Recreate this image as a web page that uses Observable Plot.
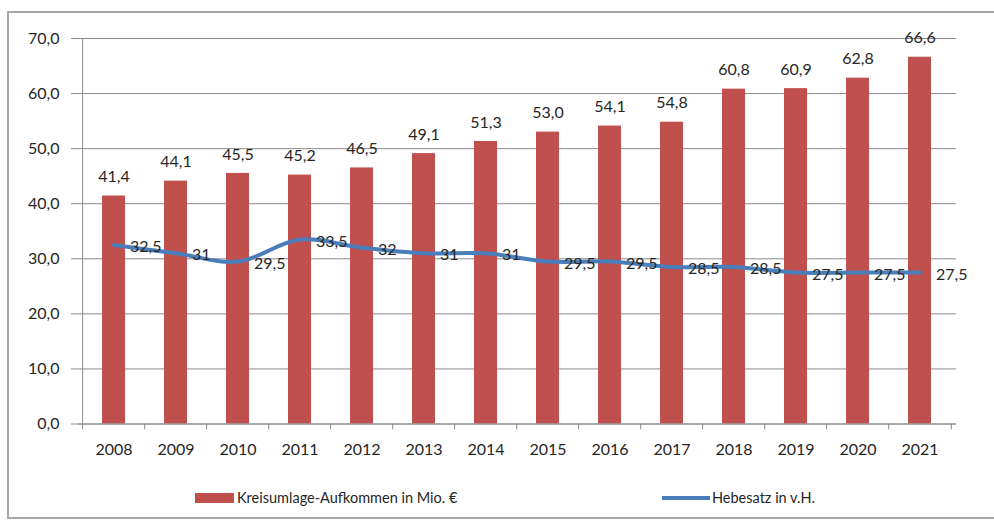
<!DOCTYPE html>
<html>
<head>
<meta charset="utf-8">
<script src="https://cdn.jsdelivr.net/npm/d3@7"></script>
<script src="https://cdn.jsdelivr.net/npm/@observablehq/plot@0.6"></script>
<style>
  html, body { margin: 0; padding: 0; background: #fff; }
  #wrap { position: relative; width: 994px; height: 523px; overflow: hidden; font-family: Lato, "Open Sans", sans-serif; }
  #frame { position: absolute; left: 7px; top: 11px; width: 1010px; height: 504px; border: 2px solid #a6a6a6; pointer-events: none; }
  #legend { position: relative; height: 48px; font-size: 14.5px; color: #262626; }
  .sw { position: absolute; }
  .lt { position: absolute; top: 13px; line-height: 20px; white-space: nowrap; }
</style>
</head>
<body>
<div id="wrap">
  <div id="chart"></div>
  <div id="legend">
    <div class="sw" style="left:195px; top:18px; width:39px; height:10px; background:#C0504D;"></div>
    <div class="lt" style="left:237px;">Kreisumlage-Aufkommen in Mio. €</div>
    <div class="sw" style="left:662px; top:21px; width:48px; height:4px; background:#4A7EBB;"></div>
    <div class="lt" style="left:712px;">Hebesatz in v.H.</div>
  </div>
  <div id="frame"></div>
</div>
<script>
const years = ["2008","2009","2010","2011","2012","2013","2014","2015","2016","2017","2018","2019","2020","2021"];
const aufkommen = [41.4, 44.1, 45.5, 45.2, 46.5, 49.1, 51.3, 53.0, 54.1, 54.8, 60.8, 60.9, 62.8, 66.6];
const hebesatz = [32.5, 31, 29.5, 33.5, 32, 31, 31, 29.5, 29.5, 28.5, 28.5, 27.5, 27.5, 27.5];
const yTicks = [0, 10, 20, 30, 40, 50, 60, 70];

const barData = years.map((year, i) => ({year, value: aufkommen[i]}));
const lineData = years.map((year, i) => ({year, value: hebesatz[i]}));

const comma1 = v => v.toFixed(1).replace(".", ",");
const commaAuto = v => Number.isInteger(v) ? String(v) : String(v).replace(".", ",");

const W = 994, H = 475, ML = 78, MR = 38, MT = 38, MB = 51.5;
const step = (W - ML - MR) / years.length;
const gray = "#8c8c8c";

const chart = Plot.plot({
  width: W, height: H,
  marginTop: MT, marginBottom: MB, marginLeft: ML, marginRight: MR,
  style: {fontFamily: "Lato, 'Open Sans', sans-serif", fontSize: "16px", color: "#262626", background: "transparent"},
  x: {type: "band", domain: years, paddingInner: 0.625, paddingOuter: 0.3125, label: null},
  y: {domain: [0, 70], label: null},
  marks: [
    Plot.gridY(yTicks, {stroke: gray, strokeOpacity: 1}),
    Plot.barY(barData, {x: "year", y: "value", fill: "#C0504D"}),
    Plot.ruleY([0], {stroke: gray}),
    Plot.ruleX([years[0]], {x: d => d, y1: 0, y2: 70, dx: -step / 2, stroke: gray}),
    Plot.ruleX(years, {x: d => d, y1: 0, y2: 0, insetBottom: -6, dx: -step / 2, stroke: gray}),
    Plot.ruleX([years[years.length - 1]], {x: d => d, y1: 0, y2: 0, insetBottom: -6, dx: step / 2, stroke: gray}),
    Plot.axisY(yTicks, {tickSize: 7, tickPadding: 12, tickFormat: comma1, stroke: gray, fill: "#262626", label: null}),
    Plot.axisX({tickSize: 0, tickPadding: 20, fill: "#262626", label: null}),
    Plot.lineY(lineData, {x: "year", y: "value", stroke: "#4A7EBB", strokeWidth: 4, curve: "catmull-rom"}),
    Plot.text(barData, {x: "year", y: "value", text: d => comma1(d.value), dy: -19, fill: "#262626"}),
    Plot.text(lineData, {x: "year", y: "value", text: d => commaAuto(d.value), textAnchor: "start", dx: 16, dy: 2, fill: "#262626"})
  ]
});
document.getElementById("chart").appendChild(chart);
</script>
</body>
</html>
